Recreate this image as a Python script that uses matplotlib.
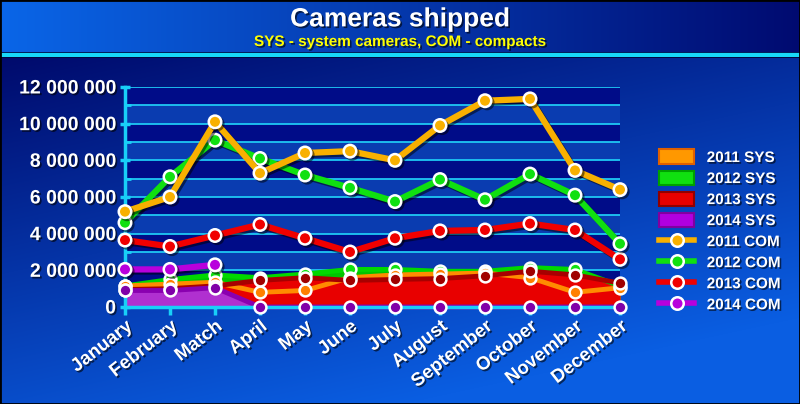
import numpy as np
import matplotlib
matplotlib.use('Agg')
import matplotlib.pyplot as plt
import matplotlib.patheffects as pe
from matplotlib.lines import Line2D
from matplotlib.patches import Patch, Rectangle
from matplotlib.ticker import FuncFormatter, MultipleLocator
from matplotlib.colors import to_rgb

plt.rcParams['font.family'] = ['Liberation Sans', 'DejaVu Sans']
plt.rcParams['font.weight'] = 'bold'

# Data (millions of units)
months = ['January', 'February', 'Match', 'April', 'May', 'June', 'July',
          'August', 'September', 'October', 'November', 'December']

com_2011 = [5.2, 6.0, 10.1, 7.3, 8.4, 8.5, 8.0, 9.9, 11.25, 11.35, 7.45, 6.4]
com_2012 = [4.6, 7.1, 9.1, 8.1, 7.2, 6.5, 5.75, 6.95, 5.85, 7.25, 6.1, 3.45]
com_2013 = [3.65, 3.3, 3.9, 4.5, 3.75, 3.0, 3.75, 4.15, 4.2, 4.55, 4.2, 2.6]
com_2014 = [2.05, 2.05, 2.3, None, None, None, None, None, None, None, None, None]

sys_2011 = [1.15, 1.25, 1.35, 0.8, 0.9, 1.6, 1.75, 1.8, 1.85, 1.6, 0.8, 1.05]
sys_2012 = [1.15, 1.5, 1.75, 1.6, 1.8, 2.05, 2.05, 1.95, 1.95, 2.15, 2.05, 1.15]
sys_2013 = [0.95, 1.0, 1.15, 1.45, 1.6, 1.45, 1.5, 1.55, 1.7, 1.95, 1.75, 1.3]
sys_2014 = [0.9, 0.9, 1.05, 0, 0, 0, 0, 0, 0, 0, 0, 0]

def to_units(vals):
    return np.array([np.nan if v is None else v * 1e6 for v in vals])

x = np.arange(len(months))

fig = plt.figure(figsize=(8, 4.04), dpi=100)

# background gradient
bg = fig.add_axes([0, 0, 1, 1], zorder=-10)
bg.axis('off')
H, W = 404, 800
yy, xx = np.mgrid[0:H, 0:W]
dark = np.array(to_rgb('#000a6c'))
bright = np.array(to_rgb('#0a5ee2'))
t = np.clip(0.8 * (yy - 57) / 347 + 0.4 * xx / W, 0, 1)[..., None]
img = dark * (1 - t) + bright * t
# title band: horizontal gradient
tb = (1 - xx / W)[..., None]
band = np.array(to_rgb('#000a70')) * (1 - tb) + np.array(to_rgb('#0a66e8')) * tb
img = np.where((yy < 53)[..., None], band, img)
img[53:57] = to_rgb('#18d8f8')
img[52] = to_rgb('#00205a')
img[57] = to_rgb('#000840')
bg.imshow(img, extent=[0, 1, 0, 1], aspect='auto', interpolation='bilinear')
bg.set_xlim(0, 1)
bg.set_ylim(0, 1)
bg.add_patch(Rectangle((0, 0), 1, 1, fill=False, ec='black', lw=2, transform=bg.transAxes))

shadow = [pe.withSimplePatchShadow(offset=(1.2, -1.2), shadow_rgbFace='black', alpha=0.6)]
fig.text(0.5, 0.952, 'Cameras shipped', ha='center', va='center', color='white',
         fontsize=19, fontweight='bold', path_effects=shadow)
fig.text(0.5, 0.896, 'SYS - system cameras, COM - compacts', ha='center', va='center',
         color='#ffff00', fontsize=11, fontweight='bold', path_effects=shadow)

ax = fig.add_axes([0.15625, 0.2401, 0.61875, 0.5446])
ax.set_facecolor('#000c88')
ax.set_xlim(0, 11)
ax.set_ylim(0, 12e6)
for k in range(0, 12, 2):
    ax.axhspan(k * 1e6, (k + 1) * 1e6, color='#0a3cb0', zorder=0, lw=0)
for k in range(1, 13):
    ax.axhline(k * 1e6, color='#1ec8f4', lw=1.3, zorder=1)

line_shadow = [pe.SimpleLineShadow(offset=(1.5, -1.5), alpha=0.5), pe.Normal()]

# SYS areas
sys_series = [
    (sys_2012, '#00c400', '#00d800', '#10e010'),
    (sys_2011, '#ff8c00', '#ff8c00', '#ff8000'),
    (sys_2013, '#e80000', '#a80000', '#a00000'),
    (sys_2014, '#b030d0', '#8a00b0', '#8000a8'),
]
for vals, fill_c, edge_c, mk_c in sys_series:
    y = to_units(vals)
    ax.fill_between(x, 0, y, color=fill_c, lw=0, zorder=2)
for vals, fill_c, edge_c, mk_c in sys_series:
    y = to_units(vals)
    ax.plot(x, y, color=edge_c, lw=3.5, zorder=3, clip_on=False)
for vals, fill_c, edge_c, mk_c in sys_series:
    y = to_units(vals)
    ax.plot(x, y, ls='none', marker='o', ms=8.5, mfc=mk_c, mec='white', mew=1.8,
            zorder=4, clip_on=False)

# COM lines
com_series = [
    (com_2014, '#b800dc'),
    (com_2013, '#f00000'),
    (com_2012, '#10e010'),
    (com_2011, '#f8b000'),
]
for vals, c in com_series:
    y = to_units(vals)
    ax.plot(x, y, color=c, lw=4.5, marker='o', ms=9, mfc=c, mec='white', mew=1.8,
            zorder=5, clip_on=False, path_effects=line_shadow)

for s in ['top', 'right']:
    ax.spines[s].set_visible(False)
for s in ['left', 'bottom']:
    ax.spines[s].set_color('#18d0f8')
    ax.spines[s].set_linewidth(2.5)
    ax.spines[s].set_zorder(3)

ax.yaxis.set_major_locator(MultipleLocator(2e6))
ax.yaxis.set_minor_locator(MultipleLocator(1e6))
ax.yaxis.set_major_formatter(FuncFormatter(lambda v, p: f'{int(v):,}'.replace(',', ' ')))
ax.tick_params(axis='y', which='major', colors='#18d0f8', length=7, width=2.5,
               direction='inout', labelcolor='white', labelsize=14, pad=3)
ax.tick_params(axis='y', which='minor', colors='#18d0f8', length=4, width=2, direction='in')
ax.set_xticks(x)
ax.set_xticklabels(months)
ax.tick_params(axis='x', colors='#18d0f8', length=6, width=2.5, labelcolor='white',
               labelsize=13.5, pad=2)
for lab in ax.get_xticklabels() + ax.get_yticklabels():
    lab.set_fontweight('bold')
    lab.set_path_effects(shadow)
for lab in ax.get_xticklabels():
    lab.set_rotation(38)
    lab.set_ha('right')
    lab.set_rotation_mode('anchor')

# legend
handles = [
    Patch(fc='#ff9800', ec='#e06000', lw=1.5, label='2011 SYS'),
    Patch(fc='#10e010', ec='#00a000', lw=1.5, label='2012 SYS'),
    Patch(fc='#e80000', ec='#900000', lw=1.5, label='2013 SYS'),
    Patch(fc='#b000e0', ec='#8000a0', lw=1.5, label='2014 SYS'),
]
for vals, c in reversed(com_series):
    handles.append(Line2D([], [], color=c, lw=4, marker='o', ms=9, mfc=c, mec='white',
                          mew=1.8))
labels = ['2011 SYS', '2012 SYS', '2013 SYS', '2014 SYS',
          '2011 COM', '2012 COM', '2013 COM', '2014 COM']
leg = fig.legend(handles, labels, loc='upper left', bbox_to_anchor=(0.807, 0.664),
                 frameon=False, fontsize=11, handlelength=2.3, handleheight=1.1,
                 labelspacing=0.36, handletextpad=0.8)
for txt in leg.get_texts():
    txt.set_color('white')
    txt.set_fontweight('bold')
    txt.set_path_effects(shadow)

plt.savefig('out.png', dpi=100)
plt.close(fig)
